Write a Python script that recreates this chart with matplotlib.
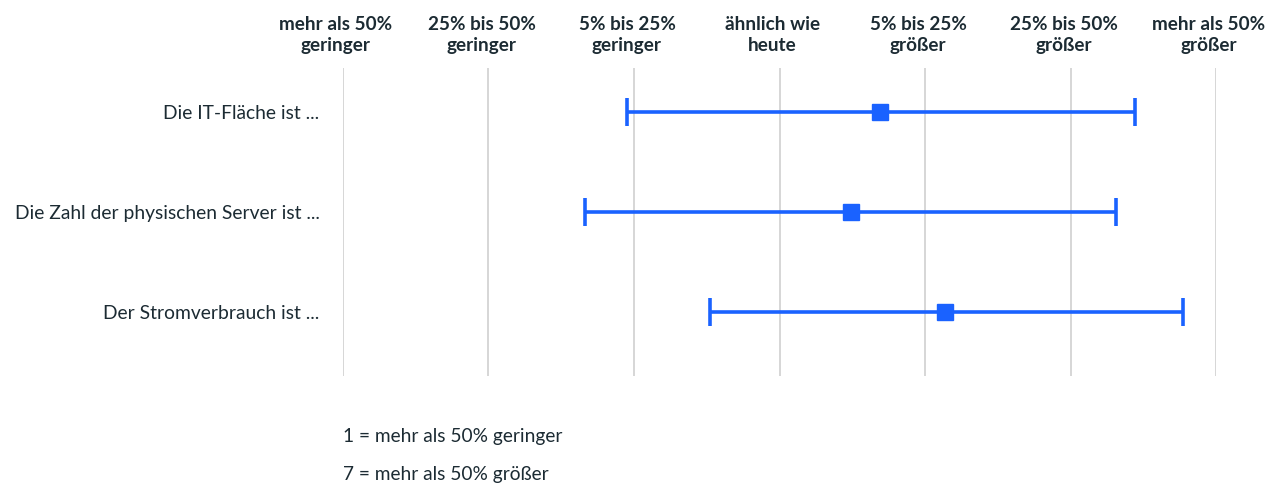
import matplotlib.pyplot as plt
from matplotlib.transforms import ScaledTranslation

# Daten (Skala 1..7)
kategorien = ['Die IT-Fläche ist ...',
              'Die Zahl der physischen Server ist ...',
              'Der Stromverbrauch ist ...']
mittelwert = [4.69, 4.49, 5.14]
untergrenze = [2.95, 2.66, 3.52]
obergrenze = [6.44, 6.31, 6.77]
skala = [1, 2, 3, 4, 5, 6, 7]
skala_labels = ['mehr als 50%\ngeringer', '25% bis 50%\ngeringer', '5% bis 25%\ngeringer',
                'ähnlich wie\nheute', '5% bis 25%\ngrößer', '25% bis 50%\ngrößer',
                'mehr als 50%\ngrößer']
fussnoten = ['1 = mehr als 50% geringer', '7 = mehr als 50% größer']

blau = '#1a62ff'
textfarbe = '#1c2b33'
plt.rcParams['font.family'] = ['Lato', 'DejaVu Sans']

W, H = 1270, 486
fig = plt.figure(figsize=(W / 100, H / 100), dpi=100)
ax = fig.add_axes([343 / W, 1 - 376 / H, (1216 - 343) / W, (376 - 68) / H])

ypos = list(range(len(kategorien)))
fehler = [[m - u for m, u in zip(mittelwert, untergrenze)],
          [o - m for m, o in zip(mittelwert, obergrenze)]]
ax.errorbar(mittelwert, ypos, xerr=fehler, fmt='s', color=blau, ecolor=blau,
            elinewidth=2.6, capsize=10, capthick=2.6, markersize=12, zorder=3)

ax.set_xlim(1, 7)
ax.set_ylim(2.64, -0.44)
ax.set_xticks(skala)
ax.set_xticklabels(skala_labels, fontsize=13.6, fontweight='bold', color=textfarbe,
                   linespacing=1.28)
ax.xaxis.tick_top()
ax.tick_params(axis='x', length=0, pad=10)
# Beschriftungen sitzen im Original etwas links der Gitterlinien
verschiebung = ScaledTranslation(-7 / 100, 0, fig.dpi_scale_trans)
for lab in ax.get_xticklabels():
    lab.set_transform(lab.get_transform() + verschiebung)
ax.set_yticks(ypos)
ax.set_yticklabels(kategorien, fontsize=13.9, color=textfarbe)
ax.tick_params(axis='y', length=0, pad=17)
ax.grid(axis='x', color='#d0d0d0', linewidth=1.2, zorder=0)
for s in ax.spines.values():
    s.set_visible(False)

fig.text(343 / W, 1 - 436 / H, fussnoten[0], fontsize=13.75, color=textfarbe, va='center')
fig.text(343 / W, 1 - 474 / H, fussnoten[1], fontsize=13.75, color=textfarbe, va='center')

fig.savefig('out.png', dpi=100)
